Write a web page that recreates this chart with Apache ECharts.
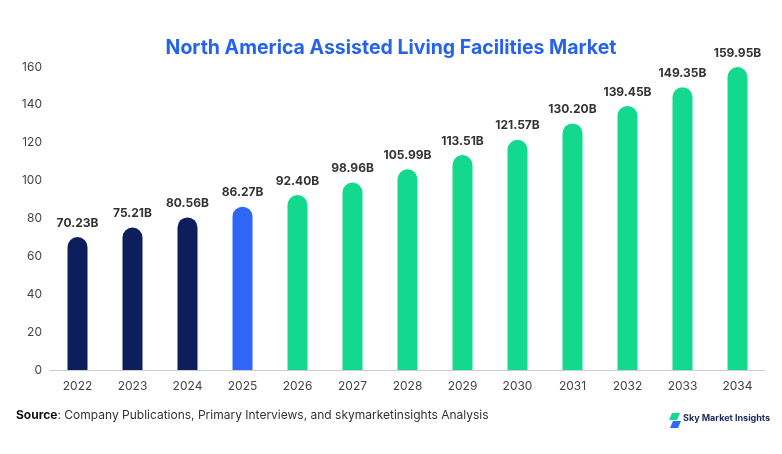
<!DOCTYPE html>
<html><head><meta charset="utf-8">
<script src="https://cdn.jsdelivr.net/npm/echarts@6/dist/echarts.min.js"></script>
<style>body{margin:0}#c{width:782px;height:454px}</style></head>
<body><div id="c"></div>
<script>
const years = ['2022','2023','2024','2025','2026','2027','2028','2029','2030','2031','2032','2033','2034'];
const values = [70.23,75.21,80.56,86.27,92.40,98.96,105.99,113.51,121.57,130.20,139.45,149.35,159.95];
const colors = ['#0c1f5c','#0c1f5c','#0c1f5c','#2f66f5','#12d98d','#12d98d','#12d98d','#12d98d','#12d98d','#12d98d','#12d98d','#12d98d','#12d98d'];
const chart = echarts.init(document.getElementById('c'));
chart.setOption({
  animation:false,
  title:{text:'North America Assisted Living Facilities Market',left:'center',top:33,textStyle:{fontFamily:'Inter',fontSize:19.5,fontWeight:'bold',color:'#2563eb'}},
  grid:{left:50,right:17,top:67,bottom:84},
  xAxis:{type:'category',data:years,axisTick:{show:false},axisLine:{lineStyle:{color:'#ccc'}},axisLabel:{color:'#444',fontFamily:'Inter',fontSize:12,margin:10}},
  yAxis:{type:'value',min:0,max:160,interval:20,splitLine:{show:false},axisLine:{show:false},axisLabel:{color:'#444',fontFamily:'Inter',fontSize:12}},
  series:[{type:'bar',barWidth:20,data:values.map((v,i)=>({value:v,itemStyle:{color:colors[i],borderRadius:[10,10,0,0]}})),
    label:{show:true,position:'top',distance:8,formatter:p=>p.value.toFixed(2)+'B',fontFamily:'Inter',fontWeight:'bold',fontSize:12,color:'#333'}}],
  graphic:[
    {type:'text',left:16,top:409,style:{text:'{b|Source}: Company Publications, Primary Interviews, and skymarketinsights Analysis',fontFamily:'Inter',fontSize:12,fill:'#333',rich:{b:{fontWeight:'bold',fontFamily:'Inter',fontSize:12,fill:'#111'}}}},
    {type:'polygon',shape:{points:[[672,413],[680,413],[677,420],[669,420]]},style:{fill:'#12d98d'}},
    {type:'polygon',shape:{points:[[673,421],[681,421],[678,428],[670,428]]},style:{fill:'#2f66f5'}},
    {type:'text',left:683,top:414,style:{text:'Sky Market Insights',fontFamily:'Inter',fontSize:9,fontWeight:'bold',fill:'#1a2a5a'}}
  ]
});
</script></body></html>
